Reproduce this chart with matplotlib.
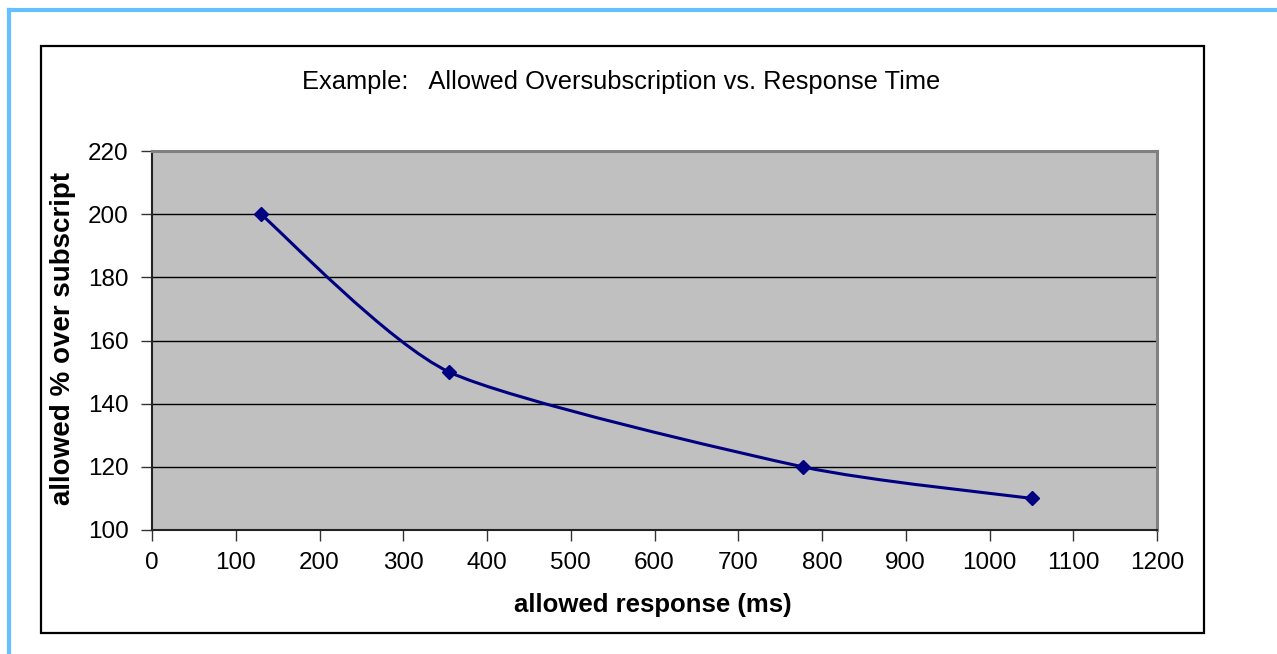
import matplotlib
matplotlib.use("Agg")
import matplotlib.pyplot as plt
from matplotlib.path import Path
from matplotlib.patches import PathPatch, Rectangle
from matplotlib.lines import Line2D
import numpy as np

plt.rcParams['font.family'] = ['Liberation Sans', 'DejaVu Sans']

# Data
response_ms = [130, 355, 777, 1051]
oversub_pct = [200, 150, 120, 110]
x_ticks = [0, 100, 200, 300, 400, 500, 600, 700, 800, 900, 1000, 1100, 1200]
y_ticks = [100, 120, 140, 160, 180, 200, 220]
title = "Example:   Allowed Oversubscription vs. Response Time"
xlabel = "allowed response (ms)"
ylabel = "allowed % over subscript"

W, H = 1277, 654
fig = plt.figure(figsize=(W / 100, H / 100), dpi=100)

# outer light-blue frame (partially visible)
fig.add_artist(Line2D([8.5 / W, 8.5 / W], [1 - 9.5 / H, 0], transform=fig.transFigure,
                      color='#66BFFF', lw=3))
fig.add_artist(Line2D([8.5 / W, 1], [1 - 9.5 / H, 1 - 9.5 / H], transform=fig.transFigure,
                      color='#66BFFF', lw=3))
# chart area border
fig.add_artist(Rectangle((40.5 / W, 1 - 632.5 / H), (1204 - 40.5) / W, (632.5 - 45.5) / H,
                         transform=fig.transFigure, fill=False, edgecolor='black', lw=1.6))

L, R, T, B = 152, 1157, 151, 530
ax = fig.add_axes([L / W, 1 - B / H, (R - L) / W, (B - T) / H])
ax.set_facecolor('#C0C0C0')
ax.set_xlim(0, 1200)
ax.set_ylim(100, 220)
ax.set_xticks(x_ticks)
ax.set_yticks(y_ticks)
ax.set_xticklabels([str(v) for v in x_ticks])
ax.set_yticklabels([str(v) for v in y_ticks])
ax.tick_params(axis='both', direction='out', length=8, width=1, color='#333333',
               labelsize=17.5, labelcolor='black')
ax.tick_params(axis='x', pad=8)
ax.tick_params(axis='y', pad=9)
for yv in y_ticks[1:-1]:
    ax.axhline(yv, color='black', lw=1, zorder=1)
for s in ['top', 'right']:
    ax.spines[s].set_color('#808080')
    ax.spines[s].set_linewidth(2.2)
for s in ['left', 'bottom']:
    ax.spines[s].set_color('#222222')
    ax.spines[s].set_linewidth(1.5)

# smoothed line (Excel-style Bezier smoothing through the data points)
pw, ph = (R - L), (B - T)
def to_px(x, y):
    return np.array([x / 1200 * pw, (y - 100) / 120 * ph])
def to_data(p):
    return (p[0] / pw * 1200, p[1] / ph * 120 + 100)
pts = [to_px(x, y) for x, y in zip(response_ms, oversub_pct)]
verts = [to_data(pts[0])]
codes = [Path.MOVETO]
n = len(pts)
k = 1 / 9
for i in range(n - 1):
    p0 = pts[i - 1] if i > 0 else pts[i]
    p1 = pts[i]
    p2 = pts[i + 1]
    p3 = pts[i + 2] if i + 2 < n else pts[i + 1]
    c1 = p1 + (p2 - p0) * k
    c2 = p2 - (p3 - p1) * k
    verts += [to_data(c1), to_data(c2), to_data(p2)]
    codes += [Path.CURVE4] * 3
ax.add_patch(PathPatch(Path(verts, codes), facecolor='none', edgecolor='#000080', lw=2.2,
                       zorder=3))
ax.plot(response_ms, oversub_pct, linestyle='none', marker='D', markersize=7.5,
        color='#000080', zorder=4)

fig.text(621 / W, 1 - 82 / H, title, ha='center', va='center', fontsize=18.4)
fig.text(653 / W, 1 - 605 / H, xlabel, ha='center', va='center', fontsize=18.5,
         fontweight='bold')
fig.text(63 / W, 1 - 338 / H, ylabel, ha='center', va='center', fontsize=20,
         fontweight='bold', rotation=90)

fig.savefig('out.png', dpi=100)
